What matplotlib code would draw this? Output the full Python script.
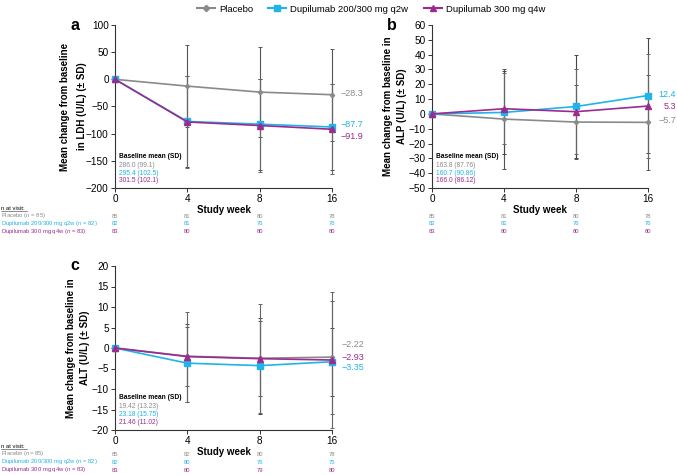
import matplotlib
matplotlib.use('Agg')
import matplotlib.pyplot as plt
from matplotlib.lines import Line2D

plt.rcParams['font.family'] = ['Liberation Sans', 'DejaVu Sans']
plt.rcParams['mathtext.fontset'] = 'custom'
plt.rcParams['mathtext.it'] = 'Liberation Sans:italic'
plt.rcParams['mathtext.rm'] = 'Liberation Sans'

weeks = ['0', '4', '8', '16']

# LDH (panel a)
ldh_placebo = [0, -12.5, -23.5, -28.3]
ldh_placebo_sd = [0, 75, 83, 85]
ldh_q2w = [0, -77.5, -82.5, -87.7]
ldh_q2w_sd = [0, 84, 84, 80]
ldh_q4w = [0, -78.5, -85.0, -91.9]
ldh_q4w_sd = [0, 85, 85, 83]
ldh_baseline = ['286.0 (99.1)', '295.4 (102.5)', '301.5 (102.1)']

# ALP (panel b)
alp_placebo = [0, -3.5, -5.5, -5.7]
alp_placebo_sd = [0, 33.5, 25, 32]
alp_q2w = [0, 1.0, 5.0, 12.4]
alp_q2w_sd = [0, 28, 35, 38.6]
alp_q4w = [0, 3.5, 1.5, 5.3]
alp_q4w_sd = [0, 24, 28.5, 35]
alp_baseline = ['163.8 (87.76)', '160.7 (90.86)', '166.0 (86.12)']

# ALT (panel c)
alt_placebo = [0, -2.0, -2.5, -2.22]
alt_placebo_sd = [0, 7.2, 9.2, 13.8]
alt_q2w = [0, -3.7, -4.3, -3.35]
alt_q2w_sd = [0, 9.5, 11.7, 8.3]
alt_q4w = [0, -2.1, -2.6, -2.93]
alt_q4w_sd = [0, 11, 13.3, 16.5]
alt_baseline = ['19.42 (13.23)', '23.18 (15.75)', '21.46 (11.02)']

# n at visit
n_ab = [[85, 81, 80, 78], [82, 81, 76, 76], [83, 80, 80, 80]]
n_c = [[85, 82, 80, 78], [82, 80, 76, 75], [83, 80, 79, 80]]
n_labels_a = ['Placebo ($n$ = 85)', 'Dupilumab 200/300 mg q2w ($n$ = 82)',
              'Dupilumab 300 mg q4w ($n$ = 83)']
n_labels_c = ['Placebo ($n$= 85)', 'Dupilumab 200/300 mg q2w ($n$ = 82)',
              'Dupilumab 300 mg q4w ($n$ = 83)']

names = ['Placebo', 'Dupilumab 200/300 mg q2w', 'Dupilumab 300 mg q4w']
colors = ['#8a8a8a', '#1fb4ea', '#9c2a8f']
markers = ['D', 's', '^']
msizes = [2.2, 3.8, 3.8]

W, H = 677, 475
fig = plt.figure(figsize=(W / 100, H / 100), dpi=100)


def px_axes(l, r, t, b):
    return fig.add_axes([l / W, 1 - b / H, (r - l) / W, (b - t) / H])


def panel(ax, means, sds, ylim, ystep, ylabel, letter, baseline, ends, end_off, end_ha, ls, lp):
    x = range(len(weeks))
    for m, s, c in zip(means, sds, ['#555555', '#444444', '#666666']):
        ax.errorbar(x, m, yerr=s, fmt='none', ecolor=c, elinewidth=0.8,
                    capsize=1.6, capthick=0.7, zorder=1, clip_on=False)
    for i, m in enumerate(means):
        ax.plot(x, m, color=colors[i], lw=1.2, marker=markers[i], ms=msizes[i],
                zorder=3 + i, clip_on=False)
    ax.set_xlim(0, 3)
    ax.set_ylim(*ylim)
    ax.set_yticks(range(ylim[0], ylim[1] + 1, ystep))
    ax.set_xticks(list(x))
    ax.set_xticklabels(weeks)
    for sp in ['top', 'right']:
        ax.spines[sp].set_visible(False)
    for sp in ['left', 'bottom']:
        ax.spines[sp].set_color('#333333')
        ax.spines[sp].set_linewidth(0.8)
    ax.tick_params(length=3, width=0.7, color='#333333', labelsize=7.2, pad=1.5)
    ax.set_xlabel('Study week', fontsize=7, fontweight='bold', labelpad=0.5)
    ax.set_ylabel(ylabel, fontsize=7, fontweight='bold', labelpad=lp, linespacing=ls)
    ax.text(-0.185, 1.0, letter, transform=ax.transAxes, fontsize=11.5,
            fontweight='bold', ha='center', va='center')
    ax.text(0.02, 0.196, 'Baseline mean (SD)', transform=ax.transAxes, fontsize=4.8,
            fontweight='bold', va='center')
    for i, t in enumerate(baseline):
        ax.text(0.02, 0.141 - i * 0.049, t, transform=ax.transAxes, fontsize=4.8,
                color=colors[i], va='center')
    for i, m in enumerate(means):
        ax.annotate(ends[i], (3, m[-1]), xytext=end_off[i], textcoords='offset points',
                    color=colors[i], fontsize=6.5, va='center', ha=end_ha,
                    annotation_clip=False)


ax_a = px_axes(115, 332, 25, 188)
panel(ax_a, [ldh_placebo, ldh_q2w, ldh_q4w], [ldh_placebo_sd, ldh_q2w_sd, ldh_q4w_sd],
      (-200, 100), 50, 'Mean change from baseline\nin LDH (U/L) (± SD)', 'a', ldh_baseline,
      ['\u221228.3', '\u221287.7', '\u221291.9'], [(6, 1), (6, 2), (6, -5)], 'left', 1.9, -1)

ax_b = px_axes(432, 648, 25, 188)
panel(ax_b, [alp_placebo, alp_q2w, alp_q4w], [alp_placebo_sd, alp_q2w_sd, alp_q4w_sd],
      (-50, 60), 10, 'Mean change from baseline in\nALP (U/L) (± SD)', 'b', alp_baseline,
      ['\u22125.7', '12.4', '5.3'], [(20, 1), (20, 1), (20, -0.5)], 'right', 1.5, 1)

ax_c = px_axes(115, 332, 266, 430)
panel(ax_c, [alt_placebo, alt_q2w, alt_q4w], [alt_placebo_sd, alt_q2w_sd, alt_q4w_sd],
      (-20, 20), 5, 'Mean change from baseline in\nALT (U/L) (± SD)', 'c', alt_baseline,
      ['\u22122.22', '\u22123.35', '\u22122.93'], [(7, 9), (7, -4), (7, 2)], 'left', 1.5, 1)


def n_table(ax, rows, labels, top_px, step):
    ys = [top_px + 8, top_px + 8 + step, top_px + 8 + 2 * step]
    if labels:
        fig.text(1 / W, 1 - top_px / H, 'n at visit:', fontsize=4.2, va='center', ha='left')
        fig.add_artist(Line2D([1 / W, 27 / W], [1 - (top_px + 3) / H] * 2,
                              color='#333333', lw=0.4))
        for i, lab in enumerate(labels):
            fig.text(1 / W, 1 - ys[i] / H, lab, fontsize=4.2, color=colors[i], va='center')
    for i, r in enumerate(rows):
        for j, v in enumerate(r):
            xf = ax.transData.transform((j, 0))[0] / (fig.dpi * fig.get_figwidth())
            fig.text(xf, 1 - ys[i] / H, str(v), fontsize=4.2, color=colors[i],
                     va='center', ha='center')


n_table(ax_a, n_ab, n_labels_a, 208, 7.5)
n_table(ax_b, n_ab, None, 208, 7.5)
n_table(ax_c, n_c, n_labels_c, 446, 8)

handles = [Line2D([], [], color=colors[i], marker=markers[i], ms=msizes[i] + 1, lw=1.5)
           for i in range(3)]
fig.legend(handles, names, loc='center', bbox_to_anchor=(371 / W, 1 - 9 / H), ncol=3,
           frameon=False, fontsize=6.8, handlelength=1.9, columnspacing=1.6,
           handletextpad=0.45)

fig.savefig('out.png', dpi=100)
